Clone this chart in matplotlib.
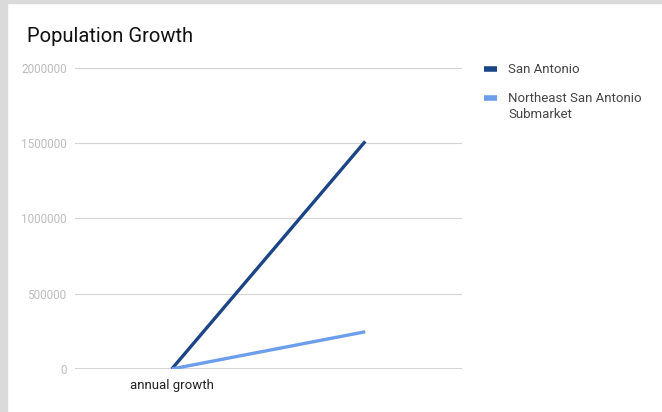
import matplotlib
matplotlib.use('Agg')
import matplotlib.pyplot as plt
from matplotlib.patches import Rectangle
from matplotlib.lines import Line2D

plt.rcParams['font.family'] = ['Roboto', 'DejaVu Sans']

# data
categories = ['annual growth', '']
san_antonio = [0, 1510000]
northeast = [0, 247000]
series_names = ['San Antonio', 'Northeast San Antonio\nSubmarket']
series_colors = ['#1c4587', '#6d9eeb']
y_ticks = [0, 500000, 1000000, 1500000, 2000000]

W, H = 662, 412
fig = plt.figure(figsize=(W / 100, H / 100), dpi=100)
fig.patch.set_facecolor('white')

# grey strip along the left and top edge
fig.patches.append(Rectangle((0, 0), 7 / W, 1, transform=fig.transFigure,
                             color='#dadada', zorder=0))
fig.patches.append(Rectangle((0, 1 - 3 / H), 1, 3 / H, transform=fig.transFigure,
                             color='#dadada', zorder=0))

ax = fig.add_axes([75 / W, 1 - 369 / H, 387 / W, 301.5 / H])

x = range(len(categories))
for vals, name, col in zip([san_antonio, northeast], series_names, series_colors):
    ax.plot(x, vals, color=col, lw=2.4, label=name, solid_capstyle='butt', zorder=3)

ax.set_xlim(-0.5, len(categories) - 0.5)
ax.set_ylim(0, 2000000)
ax.set_xticks(list(x))
ax.set_xticklabels(categories, fontsize=9.5, color='#222222')
ax.set_yticks(y_ticks)
ax.set_yticklabels([str(v) for v in y_ticks], fontsize=8.5, color='#bdbdbd')
ax.tick_params(length=0)
ax.tick_params(axis='y', pad=6)
ax.tick_params(axis='x', pad=7)

ax.grid(axis='y', color='#d4d4d4', lw=0.8)
ax.axhline(0, color='#333333', lw=1.0, zorder=2)
for s in ax.spines.values():
    s.set_visible(False)
ax.set_axisbelow(True)

fig.text(27 / W, 1 - 42 / H, 'Population Growth', fontsize=14.5,
         color='#111111', va='baseline', ha='left')

# legend on the right, handle level with the first line of each label
legend_rows = [69, 98]
for row, name, col in zip(legend_rows, series_names, series_colors):
    yf = 1 - row / H
    fig.add_artist(Line2D([484 / W, 497 / W], [yf, yf], color=col, lw=4,
                          solid_capstyle='butt', transform=fig.transFigure))
    fig.text(508 / W, 1 - (row - 6) / H, name, fontsize=9.5, color='#444444',
             ha='left', va='top', linespacing=1.25)

fig.savefig('out.png', dpi=100)
